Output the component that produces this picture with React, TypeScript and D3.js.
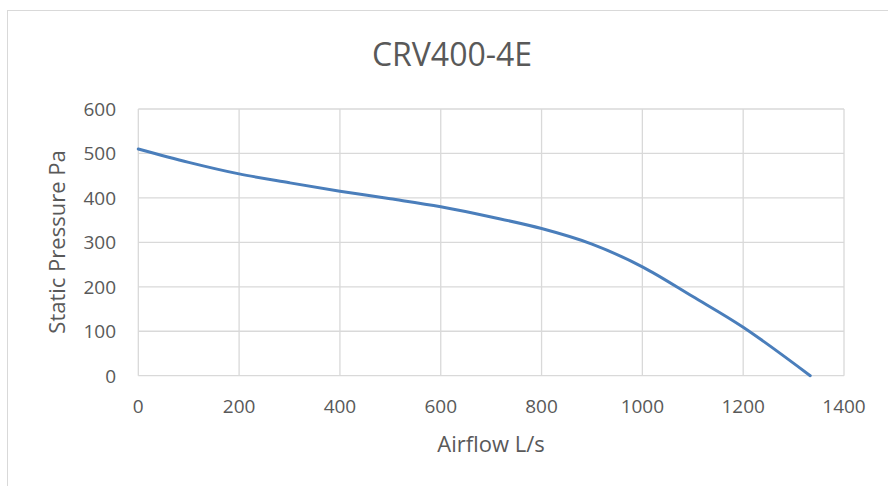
import React from "react";
import * as d3 from "d3";

const title = "CRV400-4E";
const xLabel = "Airflow L/s";
const yLabel = "Static Pressure Pa";
const airflow = [0, 100, 200, 300, 400, 500, 600, 700, 800, 900, 1000, 1100, 1200, 1333];
const pressure = [510, 480, 454, 434, 415, 398, 380, 357, 331, 296, 245, 178, 109, 0];
const xTicks = [0, 200, 400, 600, 800, 1000, 1200, 1400];
const yTicks = [0, 100, 200, 300, 400, 500, 600];

const W = 888;
const H = 486;
const FONT = "'Open Sans', sans-serif";
const TEXT = "#595959";
const GRID = "#d9d9d9";

export default function App() {
  const x = d3.scaleLinear().domain([0, 1400]).range([138.3, 844]);
  const y = d3.scaleLinear().domain([0, 600]).range([375.7, 109]);
  const pts: [number, number][] = airflow.map((a, i) => [a, pressure[i]]);
  const line = d3
    .line<[number, number]>()
    .x((d) => x(d[0]))
    .y((d) => y(d[1]))
    .curve(d3.curveCatmullRom.alpha(0.5));

  return (
    <svg
      width={W}
      height={H}
      style={{ position: "fixed", left: 0, top: 0, background: "#fff" }}
    >
      <rect x={0} y={0} width={W} height={H} fill="#fff" />
      <rect x={7.5} y={10.5} width={W + 20} height={H + 20} fill="#fff" stroke={GRID} strokeWidth={1} />
      <text x={452} y={66} textAnchor="middle" fontFamily={FONT} fontSize={32} fill={TEXT}>
        {title}
      </text>
      {yTicks.map((t) => (
        <line key={"gy" + t} x1={x(0)} x2={x(1400)} y1={y(t)} y2={y(t)} stroke={GRID} strokeWidth={1.3} />
      ))}
      {xTicks.map((t) => (
        <line key={"gx" + t} x1={x(t)} x2={x(t)} y1={y(0)} y2={y(600)} stroke={GRID} strokeWidth={1.3} />
      ))}
      {yTicks.map((t) => (
        <text
          key={"ty" + t}
          x={116}
          y={y(t)}
          dy="0.36em"
          textAnchor="end"
          fontFamily={FONT}
          fontSize={19}
          fill={TEXT}
        >
          {t}
        </text>
      ))}
      {xTicks.map((t) => (
        <text
          key={"tx" + t}
          x={x(t)}
          y={406}
          dy="0.36em"
          textAnchor="middle"
          fontFamily={FONT}
          fontSize={19}
          fill={TEXT}
        >
          {t}
        </text>
      ))}
      <path d={line(pts) || ""} fill="none" stroke="#4a7ebb" strokeWidth={3} strokeLinecap="round" />
      <text x={491} y={452} textAnchor="middle" fontFamily={FONT} fontSize={22} fill={TEXT}>
        {xLabel}
      </text>
      <text
        transform={`translate(65,242) rotate(-90)`}
        textAnchor="middle"
        fontFamily={FONT}
        fontSize={22}
        fill={TEXT}
      >
        {yLabel}
      </text>
    </svg>
  );
}
